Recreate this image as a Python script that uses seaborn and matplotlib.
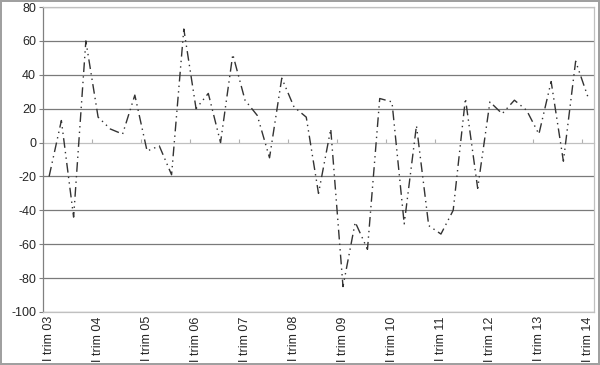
import numpy as np
import pandas as pd
import matplotlib
matplotlib.use("Agg")
import matplotlib.pyplot as plt
import seaborn as sns

# quarterly values, I trim 03 .. I trim 14
values = [-20, 13, -44, 60, 15, 8, 5, 28, -5, -2, -19, 67,
          20, 29, 0, 52, 25, 16, -9, 38, 21, 15, -30, 8,
          -85, -47, -63, 26, 24, -48, 10, -49, -54, -40, 26, -27,
          24, 17, 25, 19, 5, 36, -11, 48, 27]
years = ["03", "04", "05", "06", "07", "08", "09", "10", "11", "12", "13", "14"]
tick_labels = ["I trim " + y for y in years]
y_ticks = list(range(-100, 81, 20))

df = pd.DataFrame({"q": np.arange(len(values)), "val": values})

sns.set_style("white")
plt.rcParams["font.family"] = ["Liberation Sans", "DejaVu Sans"]

fig = plt.figure(figsize=(6, 3.65), dpi=100)
fig.patch.set_edgecolor("#a0a0a0")
fig.patch.set_linewidth(1.5)
ax = fig.add_axes([43 / 600, 1 - 312 / 365, 551 / 600, 305 / 365])

sns.lineplot(data=df, x="q", y="val", ax=ax, color="#333333", linewidth=1.0,
             linestyle=(0, (7, 3, 1, 3, 1, 3)))

ax.set_xlim(-0.5, len(values) - 0.5)
ax.set_ylim(-100, 80)
ax.set_yticks(y_ticks)
ax.set_yticklabels([str(v) for v in y_ticks], fontsize=9)
ax.set_xticks(np.arange(0, len(values), 4))
ax.set_xticklabels(tick_labels, rotation=90, fontsize=9, va="top")
ax.tick_params(axis="x", length=0, pad=3)
ax.tick_params(axis="y", length=3, width=0.8, color="#808080", left=True, pad=2)
ax.set_xlabel("")
ax.set_ylabel("")

for v in y_ticks:
    if v != 0:
        ax.axhline(v, color="#7a7a7a", linewidth=0.9, zorder=0)

for side in ["top", "right", "bottom"]:
    ax.spines[side].set_color("#c0c0c0")
    ax.spines[side].set_linewidth(0.9)
ax.spines["left"].set_color("#808080")
ax.spines["left"].set_linewidth(0.9)

# category axis crossing at zero with ticks between groups of quarters
zero_pos = (0 - (-100)) / 180
sec = ax.secondary_xaxis(zero_pos)
sec.set_xticks(np.arange(-0.5, len(values), 4))
sec.set_xticklabels([])
sec.tick_params(axis="x", length=3, width=0.8, color="#b0b0b0", direction="out")
for side in sec.spines:
    sec.spines[side].set_color("#c0c0c0")
    sec.spines[side].set_linewidth(0.9)

fig.savefig("out.png", dpi=100)
